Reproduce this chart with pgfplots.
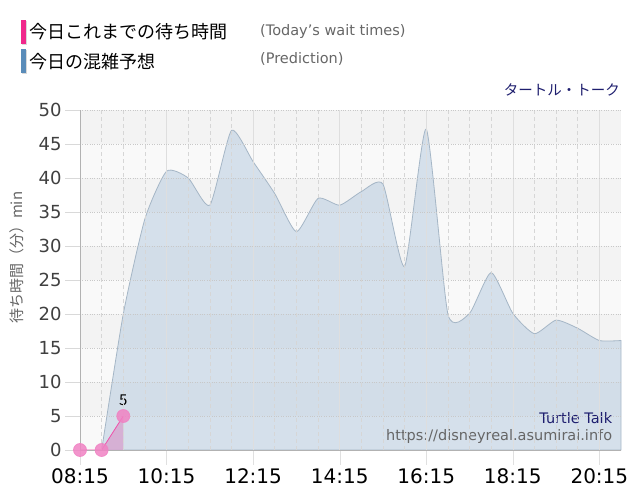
\documentclass[border=0pt]{standalone}
\usepackage{fontspec}
\setmainfont{DejaVu Sans}
\newfontfamily\jp{Noto Sans CJK JP}
\usepackage{pgfplots}
\pgfplotsset{compat=1.18}
\definecolor{pinkbar}{RGB}{240,40,140}
\definecolor{bluebar}{RGB}{90,140,185}
\definecolor{bandA}{RGB}{243,243,243}
\definecolor{bandB}{RGB}{249,249,249}
\definecolor{predfill}{RGB}{170,195,220}
\definecolor{predline}{RGB}{165,182,198}
\definecolor{navytxt}{RGB}{30,30,110}
\definecolor{pinkline}{RGB}{240,80,170}
\definecolor{pinkmark}{RGB}{240,130,195}
\definecolor{pinkfill}{RGB}{215,160,205}
\definecolor{gridc}{RGB}{200,200,200}

\begin{document}
\begin{tikzpicture}
\useasboundingbox (0bp,0bp) rectangle (640bp,500bp);
% legend
\fill[black!15] (22bp,455bp) rectangle (27bp,479bp);
\fill[pinkbar] (21bp,456bp) rectangle (26bp,480bp);
\fill[black!15] (22bp,426bp) rectangle (27bp,450bp);
\fill[bluebar] (21bp,427bp) rectangle (26bp,451bp);
\node[anchor=base west, inner sep=0] at (29bp,461bp) {\jp\fontsize{18bp}{20bp}\selectfont 今日これまでの待ち時間};
\node[anchor=base west, inner sep=0] at (29bp,431bp) {\jp\fontsize{18bp}{20bp}\selectfont 今日の混雑予想};
\node[anchor=base west, inner sep=0, text=black!60] at (260bp,464bp) {\fontsize{14.5bp}{16bp}\selectfont (Today's wait times)};
\node[anchor=base west, inner sep=0, text=black!60] at (260bp,436bp) {\fontsize{14.5bp}{16bp}\selectfont (Prediction)};
\node[anchor=base east, inner sep=0, text=navytxt] at (620bp,404bp) {\jp\fontsize{14.5bp}{16bp}\selectfont タートル・トーク};

\begin{axis}[
  at={(80bp,50bp)}, anchor=south west,
  width=541bp, height=340bp, scale only axis,
  xmin=8.25, xmax=20.75, ymin=0, ymax=50,
  xtick={8.25,10.25,12.25,14.25,16.25,18.25,20.25},
  xticklabels={08:15,10:15,12:15,14:15,16:15,18:15,20:15},
  minor x tick num=3,
  ytick={0,5,...,50},
  axis lines*=left,
  axis line style={draw=black!30},
  tick align=outside,
  major tick length=15bp,
  minor tick length=0bp,
  x tick style={draw=black!12},
  y tick style={draw=black!15},
  xmajorgrids, xminorgrids, ymajorgrids,
  major x grid style={draw=black!13, line width=0.6bp},
  minor x grid style={draw=black!16, dash pattern=on 4bp off 3bp, line width=0.6bp},
  major y grid style={draw=gridc, dotted, line width=0.7bp},
  xticklabel style={font=\fontsize{20bp}{22bp}\selectfont, text=black},
  yticklabel style={font=\fontsize{18bp}{20bp}\selectfont, text=black!75},
  /pgf/number format/assume math mode=true,
  ylabel={\jp 待ち時間（分）min},
  ylabel style={at={(axis description cs:-0.117,0.565)}, anchor=center, font=\fontsize{15bp}{17bp}\selectfont, text=black!60},
  axis on top,
  clip=false,
]
\fill[bandB] (axis cs:8.25,0) rectangle (axis cs:20.75,5);
\fill[bandA] (axis cs:8.25,5) rectangle (axis cs:20.75,10);
\fill[bandB] (axis cs:8.25,10) rectangle (axis cs:20.75,15);
\fill[bandA] (axis cs:8.25,15) rectangle (axis cs:20.75,20);
\fill[bandB] (axis cs:8.25,20) rectangle (axis cs:20.75,25);
\fill[bandA] (axis cs:8.25,25) rectangle (axis cs:20.75,30);
\fill[bandB] (axis cs:8.25,30) rectangle (axis cs:20.75,35);
\fill[bandA] (axis cs:8.25,35) rectangle (axis cs:20.75,40);
\fill[bandB] (axis cs:8.25,40) rectangle (axis cs:20.75,45);
\fill[bandA] (axis cs:8.25,45) rectangle (axis cs:20.75,50);

% prediction (flat start, then smooth)
\addplot[draw=predline, line width=0.8bp] coordinates {(8.25,0) (8.75,0)};
\addplot[draw=predline, line width=0.8bp, fill=predfill, fill opacity=0.45, smooth, tension=0.35] coordinates {
(8.75,0) (9.25,20) (9.75,34) (10.25,41) (10.75,40) (11.25,36) (11.75,47)
(12.25,42.4) (12.75,37.7) (13.25,32.1) (13.75,37) (14.25,36) (14.75,38) (15.25,39.1)
(15.75,27) (16.25,47.2) (16.75,20) (17.25,20.1) (17.75,26.1) (18.25,20.1) (18.75,17.1)
(19.25,19.1) (19.75,17.9) (20.25,16.1) (20.75,16.1)
} \closedcycle;

% today's wait times
\addplot[draw=none, fill=pinkfill, fill opacity=0.75] coordinates {
(8.25,0) (8.75,0) (9.25,5)
} \closedcycle;
\addplot[pinkline, line width=0.8bp, mark=*, mark size=6.5bp,
  mark options={fill=pinkmark, draw=pinkmark, opacity=0.85}] coordinates {
(8.25,0) (8.75,0) (9.25,5)
};
\node[anchor=south, inner sep=0, yshift=10bp] at (axis cs:9.25,5) {\jp\fontsize{15bp}{17bp}\selectfont 5};

\node[anchor=base east, inner sep=0, text=navytxt, font=\fontsize{14.5bp}{16bp}\selectfont] at (axis cs:20.55,3.9) {Turtle Talk};
\node[anchor=base east, inner sep=0, text=black!60, font=\fontsize{14.5bp}{16bp}\selectfont] at (axis cs:20.55,1.4) {https://disneyreal.asumirai.info};
\end{axis}
\end{tikzpicture}
\end{document}
